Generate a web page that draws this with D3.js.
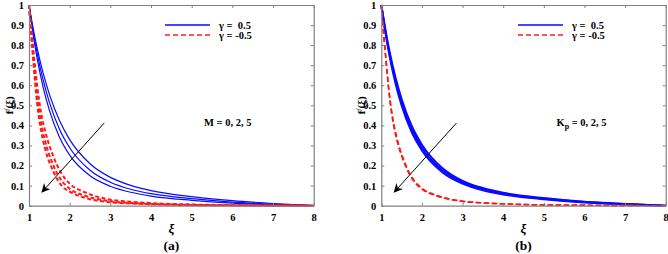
<!DOCTYPE html>
<html><head><meta charset="utf-8">
<script src="https://cdn.jsdelivr.net/npm/d3@7"></script>
<style>
body{margin:0;background:#fff;}
svg text{font-family:"Liberation Serif","Times New Roman",serif;font-weight:bold;fill:#000;white-space:pre;}
</style></head>
<body><svg id="c" width="668" height="254"></svg>
<script>
// ---- data ----
const xTicks = [1,2,3,4,5,6,7,8];
const yTicks = [0,0.1,0.2,0.3,0.4,0.5,0.6,0.7,0.8,0.9,1];
const xBlue = [1,1.1,1.2,1.35,1.5,1.75,2,2.5,3,3.5,4,5,6,7,8];
const xRed  = [1,1.1,1.2,1.3,1.4,1.6,1.8,2,2.4,3,3.5,4,5,6,7,8];
// panel (a): M = 0, 2, 5
const aBlueM0 = [1,0.885,0.785,0.659,0.556,0.424,0.329,0.209,0.141,0.101,0.075,0.045,0.025,0.011,0];
const aBlueM2 = [1,0.871,0.760,0.624,0.516,0.381,0.289,0.177,0.117,0.082,0.060,0.035,0.018,0.008,0];
const aBlueM5 = [1,0.855,0.734,0.588,0.476,0.341,0.252,0.149,0.097,0.067,0.048,0.027,0.013,0.005,0];
const aRedM0 = [1,0.79,0.60,0.46,0.37,0.245,0.16,0.11,0.065,0.03,0.02,0.013,0.006,0.003,0.0015,0];
const aRedM2 = [1,0.76,0.55,0.41,0.32,0.20,0.125,0.085,0.048,0.022,0.014,0.009,0.004,0.002,0.001,0];
const aRedM5 = [1,0.73,0.51,0.37,0.28,0.17,0.10,0.07,0.038,0.017,0.011,0.007,0.003,0.0015,0.0007,0];
// panel (b): Kp = 0, 2, 5
const bBlueK0 = [1,0.878,0.771,0.639,0.532,0.397,0.304,0.188,0.124,0.088,0.064,0.038,0.020,0.009,0];
const bBlueK2 = [1,0.871,0.760,0.624,0.516,0.381,0.289,0.177,0.117,0.082,0.060,0.035,0.018,0.008,0];
const bBlueK5 = [1,0.864,0.749,0.609,0.500,0.366,0.275,0.167,0.110,0.077,0.056,0.032,0.016,0.0072,0];
const bRedK0 = [1,0.765,0.558,0.418,0.327,0.205,0.129,0.088,0.050,0.023,0.015,0.0095,0.0045,0.0022,0.001,0];
const bRedK2 = [1,0.76,0.55,0.41,0.32,0.20,0.125,0.085,0.048,0.022,0.014,0.009,0.004,0.002,0.001,0];
const bRedK5 = [1,0.755,0.542,0.402,0.313,0.195,0.121,0.082,0.046,0.021,0.013,0.0085,0.0038,0.0019,0.0009,0];
const legendLabels = ["\u03b3 =  0.5","\u03b3 = -0.5"];

const svg = d3.select("#c");
const blue = "#0a0aff", red = "#ff1a1a", axisCol = "#808080";

function panel(opts){
  const {left,right,top,bottom} = opts;
  const x = d3.scaleLinear().domain([1,8]).range([left,right]);
  const y = d3.scaleLinear().domain([0,1]).range([bottom,top]);
  const g = svg.append("g");
  const line = d3.line().x(d=>x(d[0])).y(d=>y(d[1])).curve(d3.curveMonotoneX);

  // curves
  opts.blue.forEach(s=>{
    g.append("path").datum(xBlue.map((v,i)=>[v,s[i]])).attr("d",line)
     .attr("fill","none").attr("stroke",blue).attr("stroke-width",opts.blueW);
  });
  opts.red.forEach(s=>{
    g.append("path").datum(xRed.map((v,i)=>[v,s[i]])).attr("d",line)
     .attr("fill","none").attr("stroke",red).attr("stroke-width",opts.redW)
     .attr("stroke-dasharray",opts.redDash);
  });

  // axes (inward ticks, mirrored)
  const ax = (gen, tr) => {
    const a = g.append("g").attr("transform",tr).call(gen);
    a.select(".domain").attr("stroke",axisCol).attr("stroke-width",1.2);
    a.selectAll(".tick line").attr("stroke",axisCol);
    return a;
  };
  const bx = ax(d3.axisBottom(x).tickValues(xTicks).tickSizeInner(-3).tickSizeOuter(0).tickPadding(8).tickFormat(d3.format("d")),`translate(0,${bottom})`);
  bx.selectAll("text").attr("font-size",10.5).attr("font-family","Liberation Serif").attr("font-weight","bold");
  ax(d3.axisTop(x).tickValues(xTicks).tickSizeInner(-3).tickSizeOuter(0).tickFormat(""),`translate(0,${top})`);
  const ly = ax(d3.axisLeft(y).tickValues(yTicks).tickSizeInner(-3).tickSizeOuter(0).tickPadding(5).tickFormat(d=>d===0?"0":d===1?"1":d3.format(".1f")(d)),`translate(${left},0)`);
  ly.selectAll("text").attr("font-size",10.5).attr("font-family","Liberation Serif").attr("font-weight","bold");
  ax(d3.axisRight(y).tickValues(yTicks).tickSizeInner(-3).tickSizeOuter(0).tickFormat(""),`translate(${right},0)`);

  // axis labels
  g.append("text").attr("x",(left+right)/2).attr("y",233).attr("text-anchor","middle")
   .attr("font-size",13).attr("font-style","italic").attr("font-weight","normal").text("\u03be");
  const yl = g.append("text").attr("transform",`translate(${left-16},${(top+bottom)/2}) rotate(-90)`)
   .attr("text-anchor","middle").attr("font-size",11);
  yl.append("tspan").text("f");
  yl.append("tspan").attr("dy",-3).attr("font-size",7.5).text("/");
  yl.append("tspan").attr("dy",3).text("(\u03be)");
  g.append("text").attr("x",(left+right)/2).attr("y",250).attr("text-anchor","middle")
   .attr("font-size",13.5).text(opts.tag);

  // legend
  const lx0 = opts.legX, lx1 = opts.legX+45;
  g.append("line").attr("x1",lx0).attr("x2",lx1).attr("y1",25).attr("y2",25).attr("stroke",blue).attr("stroke-width",1.5);
  g.append("line").attr("x1",lx0).attr("x2",lx1).attr("y1",35).attr("y2",35).attr("stroke",red).attr("stroke-width",1.5).attr("stroke-dasharray","5,3");
  g.append("text").attr("x",lx1+9).attr("y",28.5).attr("font-size",10.5).text(legendLabels[0]);
  g.append("text").attr("x",lx1+9).attr("y",38.5).attr("font-size",10.5).text(legendLabels[1]);

  // annotation arrow
  const defsId = "ah"+opts.tag.replace(/\W/g,"");
  svg.append("defs").append("marker").attr("id",defsId).attr("viewBox","0 0 10 10")
    .attr("refX",9).attr("refY",5).attr("markerWidth",9).attr("markerHeight",9)
    .attr("orient","auto").attr("markerUnits","userSpaceOnUse")
    .append("path").attr("d","M0,0 L10,5 L0,10 L3,5 Z").attr("fill","#000");
  g.append("line").attr("x1",x(2.85)).attr("y1",y(0.412)).attr("x2",x(1.32)).attr("y2",y(0.068))
   .attr("stroke","#000").attr("stroke-width",1).attr("marker-end",`url(#${defsId})`);
  const t = g.append("text").attr("x",opts.annX).attr("y",126).attr("font-size",10.5);
  opts.ann(t);
}

panel({left:29,right:313.7,top:5,bottom:205.7,tag:"(a)",
  blue:[aBlueM0,aBlueM2,aBlueM5],red:[aRedM0,aRedM2,aRedM5],blueW:1.2,redW:2,redDash:"4,2.5",
  legX:165,annX:204,ann:t=>t.text("M = 0, 2, 5")});
panel({left:381.3,right:665.7,top:5,bottom:205.7,tag:"(b)",
  blue:[bBlueK0,bBlueK2,bBlueK5],red:[bRedK0,bRedK2,bRedK5],blueW:2,redW:1.4,redDash:"5,3",
  legX:518,annX:556.5,ann:t=>{t.append("tspan").text("K");t.append("tspan").attr("dy",3).attr("font-size",8).text("p");t.append("tspan").attr("dy",-3).text(" = 0, 2, 5");}});
</script></body></html>
